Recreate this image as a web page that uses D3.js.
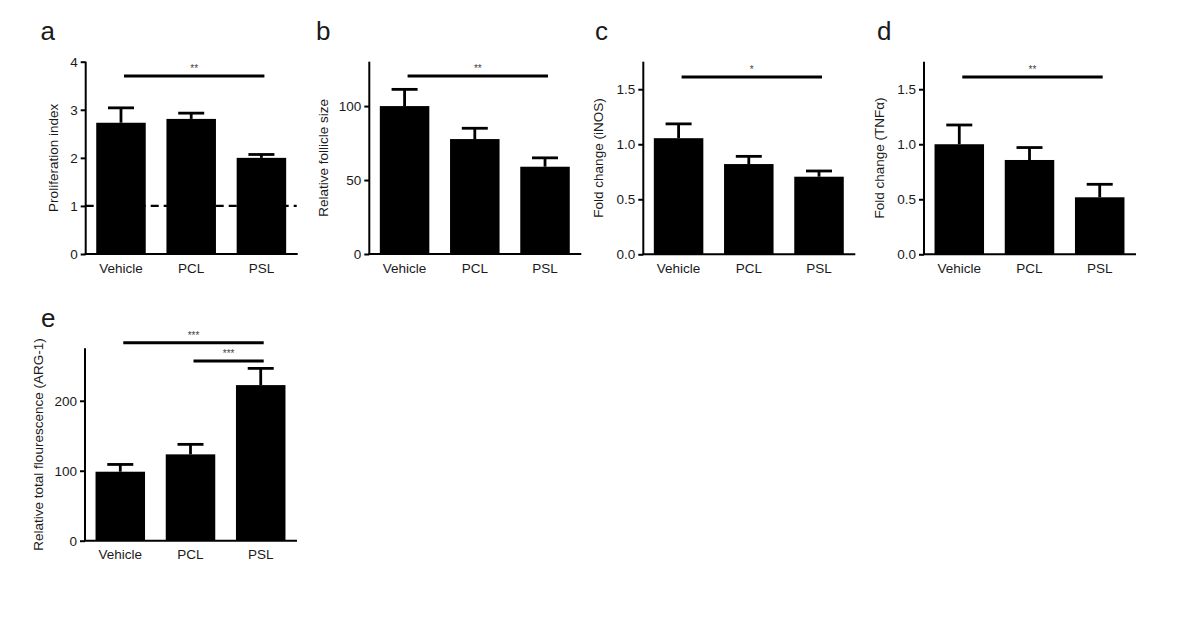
<!DOCTYPE html>
<html>
<head>
<meta charset="utf-8">
<script src="https://cdn.jsdelivr.net/npm/d3@7"></script>
<style>
  body{margin:0;background:#fff;}
  text{font-family:"Liberation Sans",Arial,sans-serif;fill:#1a1a1a;}
</style>
</head>
<body>
<svg id="chart"></svg>
<script>
// datos
const groups = ["Vehicle","PCL","PSL"];

const prolifMean = [2.73, 2.81, 2.0];
const prolifErr  = [3.04, 2.93, 2.07];
const prolifTicks = [0,1,2,3,4];

const follicleMean = [100, 77.7, 59];
const follicleErr  = [111.3, 85, 65];
const follicleTicks = [0,50,100];

const inosMean = [1.055, 0.82, 0.705];
const inosErr  = [1.185, 0.89, 0.757];
const foldTicks = [0,0.5,1.0,1.5];

const tnfMean = [1.0, 0.857, 0.518];
const tnfErr  = [1.175, 0.97, 0.636];

const argMean = [98.6, 123.4, 222.4];
const argErr  = [109, 137.7, 246.3];
const argTicks = [0,100,200];

const sigA = [{from:"Vehicle",to:"PSL",at:3.7,label:"**"}];
const sigB = [{from:"Vehicle",to:"PSL",at:120.3,label:"**"}];
const sigC = [{from:"Vehicle",to:"PSL",at:1.61,label:"*"}];
const sigD = [{from:"Vehicle",to:"PSL",at:1.61,label:"**"}];
const sigE = [{from:"Vehicle",to:"PSL",at:283,label:"***"},
              {from:"PCL",to:"PSL",at:257,label:"***"}];

const width = 1200, height = 618;

const panels = [
  {letter:"a", lx:40.5, ax:85.7, top:61.7, bottom:254, max:4, mean:prolifMean, err:prolifErr, ticks:prolifTicks,
   fmt:d3.format("d"), ylab:"Proliferation index", labOff:28, sig:sigA, dash:1},
  {letter:"b", lx:316, ax:369.3, top:61.7, bottom:254, max:130, mean:follicleMean, err:follicleErr, ticks:follicleTicks,
   fmt:d3.format("d"), ylab:"Relative follicle size", labOff:41, sig:sigB},
  {letter:"c", lx:595, ax:643.3, top:61.7, bottom:254.3, max:1.75, mean:inosMean, err:inosErr, ticks:foldTicks,
   fmt:d3.format(".1f"), ylab:"Fold change  (iNOS)", labOff:40, sig:sigC},
  {letter:"d", lx:877, ax:924, top:61.7, bottom:254.3, max:1.75, mean:tnfMean, err:tnfErr, ticks:foldTicks,
   fmt:d3.format(".1f"), ylab:"Fold change  (TNF\u03B1)", labOff:40, sig:sigD},
  {letter:"e", lx:41, ax:85, top:348.3, bottom:540.7, max:275, mean:argMean, err:argErr, ticks:argTicks,
   fmt:d3.format("d"), ylab:"Relative total flourescence (ARG-1)", labOff:42, sig:sigE}
];

const svg = d3.select("#chart").attr("width",width).attr("height",height);
svg.append("rect").attr("width",width).attr("height",height).attr("fill","#fff");

function panel(p){
  const g = svg.append("g");
  const x = d3.scaleBand().domain(groups).range([p.ax, p.ax+211]).paddingInner(0.295).paddingOuter(0.15);
  const y = d3.scaleLinear().domain([0,p.max]).range([p.bottom,p.top]);

  // linea punteada de referencia
  if(p.dash!==undefined)
    g.append("line").attr("x1",p.ax).attr("x2",p.ax+211)
      .attr("y1",y(p.dash)).attr("y2",y(p.dash))
      .attr("stroke","#000").attr("stroke-width",2.2).attr("stroke-dasharray","8,5");

  const cx = d=>x(d)+x.bandwidth()/2;
  g.selectAll(".eb").data(groups).join("line")
    .attr("x1",cx).attr("x2",cx)
    .attr("y1",(d,i)=>y(p.mean[i])).attr("y2",(d,i)=>y(p.err[i]))
    .attr("stroke","#000").attr("stroke-width",2.8);
  g.selectAll(".cap").data(groups).join("line")
    .attr("x1",d=>cx(d)-13).attr("x2",d=>cx(d)+13)
    .attr("y1",(d,i)=>y(p.err[i])).attr("y2",(d,i)=>y(p.err[i]))
    .attr("stroke","#000").attr("stroke-width",2.8);
  g.selectAll(".bar").data(groups).join("rect")
    .attr("x",d=>x(d)).attr("width",x.bandwidth())
    .attr("y",(d,i)=>y(p.mean[i])).attr("height",(d,i)=>y(0)-y(p.mean[i]))
    .attr("fill","#000");

  // ejes
  const yAxis = d3.axisLeft(y).tickValues(p.ticks).tickFormat(p.fmt).tickSize(5).tickPadding(3);
  const ya = g.append("g").attr("transform",`translate(${p.ax},0)`).call(yAxis);
  ya.attr("font-family",null).attr("font-size",null);
  ya.select(".domain").attr("d",`M0,${p.top}V${p.bottom}`).attr("stroke-width",2);
  ya.selectAll(".tick line").attr("stroke-width",2);
  ya.selectAll(".tick text").attr("font-size",13.5).style("fill","#1a1a1a");
  g.append("line").attr("x1",p.ax-1).attr("x2",p.ax+212)
    .attr("y1",p.bottom).attr("y2",p.bottom).attr("stroke","#000").attr("stroke-width",2);

  g.selectAll(".cat").data(groups).join("text")
    .attr("x",cx).attr("y",p.bottom+18.5).attr("text-anchor","middle")
    .attr("font-size",13.5).text(d=>d);

  g.append("text")
    .attr("transform",`translate(${p.ax-p.labOff},${(p.top+p.bottom)/2}) rotate(-90)`)
    .attr("text-anchor","middle").attr("font-size",13.5).text(p.ylab);

  g.append("text").attr("x",p.lx).attr("y",p.top-21.5)
    .attr("font-size",26).text(p.letter);

  // significancia
  g.selectAll(".sig").data(p.sig).join("line")
    .attr("x1",d=>cx(d.from)+3).attr("x2",d=>cx(d.to)+3)
    .attr("y1",d=>y(d.at)).attr("y2",d=>y(d.at))
    .attr("stroke","#000").attr("stroke-width",3);
  g.selectAll(".star").data(p.sig).join("text")
    .attr("x",d=>(cx(d.from)+cx(d.to))/2+3).attr("y",d=>y(d.at)-4)
    .attr("text-anchor","middle").attr("font-size",10).style("fill","#444")
    .text(d=>d.label);
}

panels.forEach(panel);
</script>
</body>
</html>
